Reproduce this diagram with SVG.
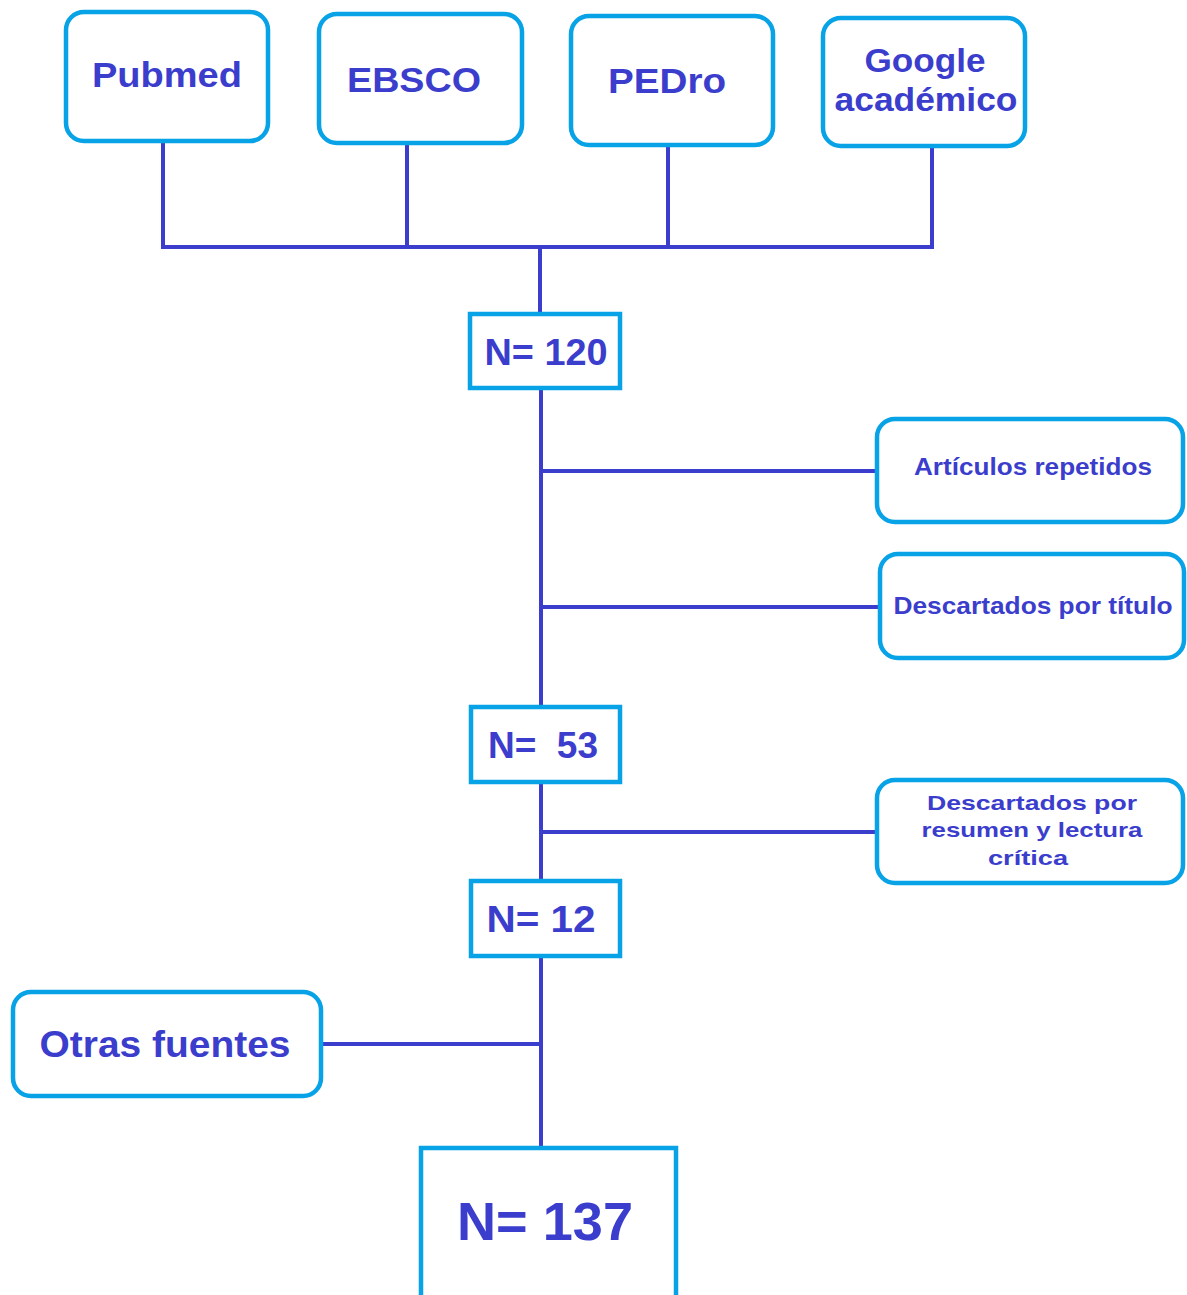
<svg xmlns="http://www.w3.org/2000/svg" width="1187" height="1295" viewBox="0 0 1187 1295">
<style>
.box{fill:#ffffff;stroke:#08a2e6;stroke-width:4.5}
.lbl{font-family:"Liberation Sans",Arial,sans-serif;font-weight:bold;fill:#3b3dcc;text-anchor:middle}
.con{stroke:#3b3dcc;stroke-width:4;fill:none;stroke-linecap:square}
</style>
<rect width="1187" height="1295" fill="#ffffff"/>
<g id="connectors">
<path class="con" d="M163 141V247M407 143V247M668 145V247M932 146V247M163 247H932"/>
<path class="con" d="M540 247V314"/>
<path class="con" d="M541 388V707M541 471H877M541 607H880"/>
<path class="con" d="M541 782V881M541 832H877"/>
<path class="con" d="M541 956V1148M321 1044H541"/>
</g>
<g id="pubmed"><rect class="box" x="66" y="12" width="202" height="129" rx="18"/><text class="lbl" x="167" y="87" font-size="35" textLength="150" lengthAdjust="spacingAndGlyphs">Pubmed</text></g>
<g id="ebsco"><rect class="box" x="319" y="14" width="203" height="129" rx="18"/><text class="lbl" x="414" y="92" font-size="35" textLength="134" lengthAdjust="spacingAndGlyphs">EBSCO</text></g>
<g id="pedro"><rect class="box" x="571" y="16" width="202" height="129" rx="18"/><text class="lbl" x="667" y="93" font-size="35" textLength="118" lengthAdjust="spacingAndGlyphs">PEDro</text></g>
<g id="google"><rect class="box" x="823" y="18" width="202" height="128" rx="18"/><text class="lbl" x="925" y="72" font-size="33" textLength="121" lengthAdjust="spacingAndGlyphs">Google</text><text class="lbl" x="926" y="111" font-size="33" textLength="183" lengthAdjust="spacingAndGlyphs">académico</text></g>
<g id="n120"><rect class="box" x="470" y="314" width="150" height="74"/><text class="lbl" x="546" y="365" font-size="37" textLength="123" lengthAdjust="spacingAndGlyphs">N= 120</text></g>
<g id="repetidos"><rect class="box" x="877" y="419" width="306" height="103" rx="18"/><text class="lbl" x="1033" y="475" font-size="24" textLength="238" lengthAdjust="spacingAndGlyphs">Artículos repetidos</text></g>
<g id="titulo"><rect class="box" x="880" y="554" width="304" height="104" rx="18"/><text class="lbl" x="1033" y="614" font-size="24" textLength="279" lengthAdjust="spacingAndGlyphs">Descartados por título</text></g>
<g id="n53"><rect class="box" x="471" y="707" width="149" height="75"/><text class="lbl" x="543" y="758" font-size="37" textLength="110" lengthAdjust="spacingAndGlyphs" xml:space="preserve">N=  53</text></g>
<g id="resumen"><rect class="box" x="877" y="780" width="306" height="103" rx="18"/><text class="lbl" font-size="21"><tspan x="1032" y="810" textLength="210" lengthAdjust="spacingAndGlyphs">Descartados por</tspan><tspan x="1032" y="837" textLength="221" lengthAdjust="spacingAndGlyphs">resumen y lectura</tspan><tspan x="1028" y="865" textLength="80" lengthAdjust="spacingAndGlyphs">crítica</tspan></text></g>
<g id="n12"><rect class="box" x="471" y="881" width="149" height="75"/><text class="lbl" x="541" y="932" font-size="37" textLength="109" lengthAdjust="spacingAndGlyphs">N= 12</text></g>
<g id="otras"><rect class="box" x="13" y="992" width="308" height="104" rx="18"/><text class="lbl" x="165" y="1057" font-size="36" textLength="251" lengthAdjust="spacingAndGlyphs">Otras fuentes</text></g>
<g id="n137"><rect class="box" x="421" y="1148" width="255" height="160"/><text class="lbl" x="545" y="1240" font-size="54" textLength="176" lengthAdjust="spacingAndGlyphs">N= 137</text></g>
</svg>
